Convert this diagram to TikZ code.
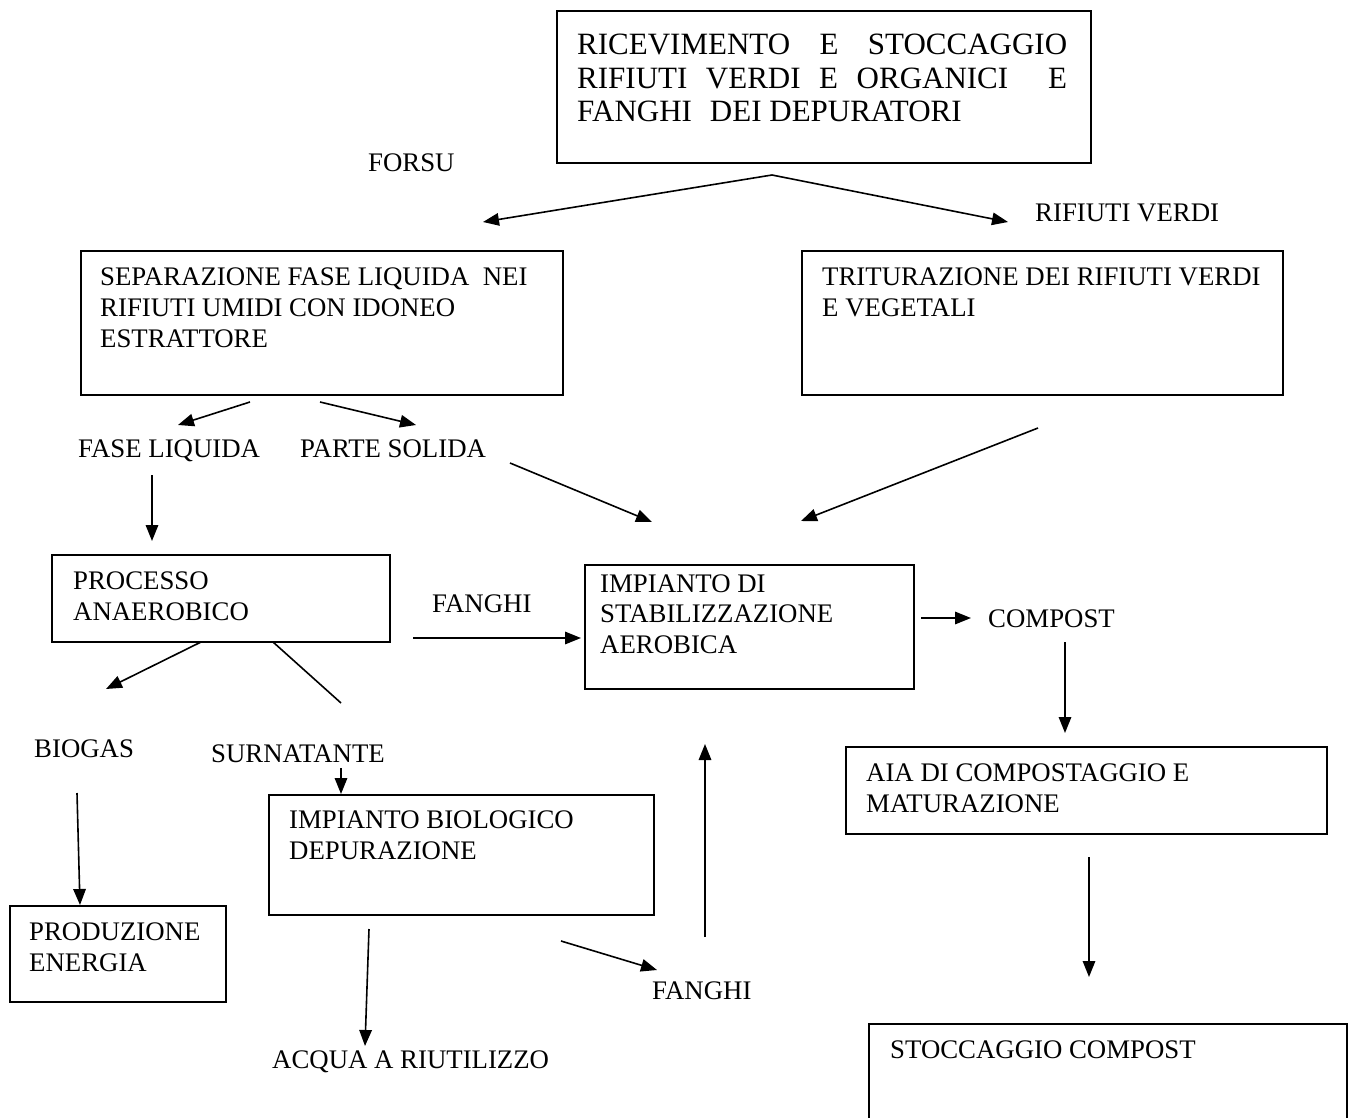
\documentclass[tikz,border=0pt]{standalone}
\usepackage{fontspec}
\setmainfont{Liberation Serif}
\usetikzlibrary{arrows.meta}
\begin{document}
\begin{tikzpicture}[x=1pt,y=-1pt,
  box/.style={draw, line width=1.8pt, anchor=north west, inner sep=0pt},
  lbl/.style={anchor=base west, inner sep=0pt, font=\fontsize{26.8}{30.5}\selectfont},
  big/.style={anchor=base west, inner sep=0pt, font=\fontsize{31}{33}\selectfont},
  arr/.style={line width=1.6pt, -{Triangle[length=16pt,width=12.5pt]}},
  ln/.style={line width=1.6pt}]
\useasboundingbox[fill=white] (0,0) rectangle (1351,1118);

% boxes
\node[box, minimum width=534pt, minimum height=152pt] (top) at (556,10) {};
\node[box, minimum width=482pt, minimum height=144pt] (sep) at (80,250) {};
\node[box, minimum width=481pt, minimum height=144pt] (trit) at (801,250) {};
\node[box, minimum width=338pt, minimum height=87pt] (proc) at (51,554) {};
\node[box, minimum width=329pt, minimum height=124pt] (stab) at (584,564) {};
\node[box, minimum width=481pt, minimum height=87pt] (aia) at (845,746) {};
\node[box, minimum width=385pt, minimum height=120pt] (bio) at (268,794) {};
\node[box, minimum width=216pt, minimum height=96pt] (prod) at (9,905) {};
\node[box, minimum width=478pt, minimum height=130pt] (stoc) at (868,1023) {};

% texts in boxes
\node[big] (t1) at (577,55) {\makebox[490pt][s]{RICEVIMENTO\hfill E\hfill STOCCAGGIO}};
\node[big] (t2) at (577,89) {\makebox[490pt][s]{RIFIUTI\hfill VERDI\hfill E\hfill ORGANICI\hspace{40pt}E}};
\node[big] (t3) at (577,122) {FANGHI\hspace{18pt}DEI DEPURATORI};

\node[lbl] (s1) at (100,285) {SEPARAZIONE FASE LIQUIDA\ \ NEI};
\node[lbl] (s2) at (100,316) {RIFIUTI UMIDI CON IDONEO};
\node[lbl] (s3) at (100,347) {ESTRATTORE};

\node[lbl] (r1) at (822,285) {TRITURAZIONE DEI RIFIUTI VERDI};
\node[lbl] (r2) at (822,316) {E VEGETALI};

\node[lbl] (p1) at (73,589) {PROCESSO};
\node[lbl] (p2) at (73,620) {ANAEROBICO};

\node[lbl] (a1) at (600,592) {IMPIANTO DI};
\node[lbl] (a2) at (600,622) {STABILIZZAZIONE};
\node[lbl] (a3) at (600,653) {AEROBICA};

\node[lbl] (c1) at (866,781) {AIA DI COMPOSTAGGIO E};
\node[lbl] (c2) at (866,812) {MATURAZIONE};

\node[lbl] (b1) at (289,828) {IMPIANTO BIOLOGICO};
\node[lbl] (b2) at (289,859) {DEPURAZIONE};

\node[lbl] (e1) at (29,940) {PRODUZIONE};
\node[lbl] (e2) at (29,971) {ENERGIA};

\node[lbl] (k1) at (890,1058) {STOCCAGGIO COMPOST};

% free labels
\node[lbl] (forsu) at (368,172) {FORSU};
\node[lbl] (verdi) at (1035,221) {RIFIUTI VERDI};
\node[lbl] (liq) at (78,457) {FASE LIQUIDA};
\node[lbl] (sol) at (300,457) {PARTE SOLIDA};
\node[lbl] (fan1) at (432,612) {FANGHI};
\node[lbl] (comp) at (988,627) {COMPOST};
\node[lbl] (biogas) at (34,757) {BIOGAS};
\node[lbl] (surn) at (211,762) {SURNATANTE};
\node[lbl] (acqua) at (272,1068) {ACQUA A RIUTILIZZO};
\node[lbl] (fan2) at (652,999) {FANGHI};

% connector end points
\coordinate (apex) at (772,175);
\coordinate (forkL) at (483,222);
\coordinate (forkR) at (1008,222);
\coordinate (sepA) at (250,402);
\coordinate (sepAe) at (178,425);
\coordinate (sepB) at (320,402);
\coordinate (sepBe) at (416,425);
\coordinate (liqA) at (152,475);
\coordinate (liqAe) at (152,541);
\coordinate (solA) at (510,463);
\coordinate (solAe) at (652,522);
\coordinate (triA) at (1038,428);
\coordinate (triAe) at (801,521);
\coordinate (fanA) at (413,638);
\coordinate (fanAe) at (581,638);
\coordinate (stA) at (921,618);
\coordinate (stAe) at (971,618);
\coordinate (coA) at (1065,642);
\coordinate (coAe) at (1065,733);
\coordinate (prA) at (201,642);
\coordinate (prAe) at (106,689);
\coordinate (prB) at (273,642);
\coordinate (prBe) at (341,703);
\coordinate (suA) at (341,768);
\coordinate (suAe) at (341,794);
\coordinate (bgA) at (77,793);
\coordinate (bgAe) at (80,905);
\coordinate (bioA) at (369,929);
\coordinate (bioAe) at (365,1046);
\coordinate (bioB) at (561,941);
\coordinate (bioBe) at (657,970);
\coordinate (upA) at (705,937);
\coordinate (upAe) at (705,744);
\coordinate (aiA) at (1089,857);
\coordinate (aiAe) at (1089,977);

% connectors
\draw[arr] (apex) -- (forkL);
\draw[arr] (apex) -- (forkR);
\draw[arr] (sepA) -- (sepAe);
\draw[arr] (sepB) -- (sepBe);
\draw[arr] (liqA) -- (liqAe);
\draw[arr] (solA) -- (solAe);
\draw[arr] (triA) -- (triAe);
\draw[arr] (fanA) -- (fanAe);
\draw[arr] (stA) -- (stAe);
\draw[arr] (coA) -- (coAe);
\draw[arr] (prA) -- (prAe);
\draw[ln] (prB) -- (prBe);
\draw[arr] (suA) -- (suAe);
\draw[arr] (bgA) -- (bgAe);
\draw[arr] (bioA) -- (bioAe);
\draw[arr] (bioB) -- (bioBe);
\draw[arr] (upA) -- (upAe);
\draw[arr] (aiA) -- (aiAe);
\end{tikzpicture}
\end{document}
